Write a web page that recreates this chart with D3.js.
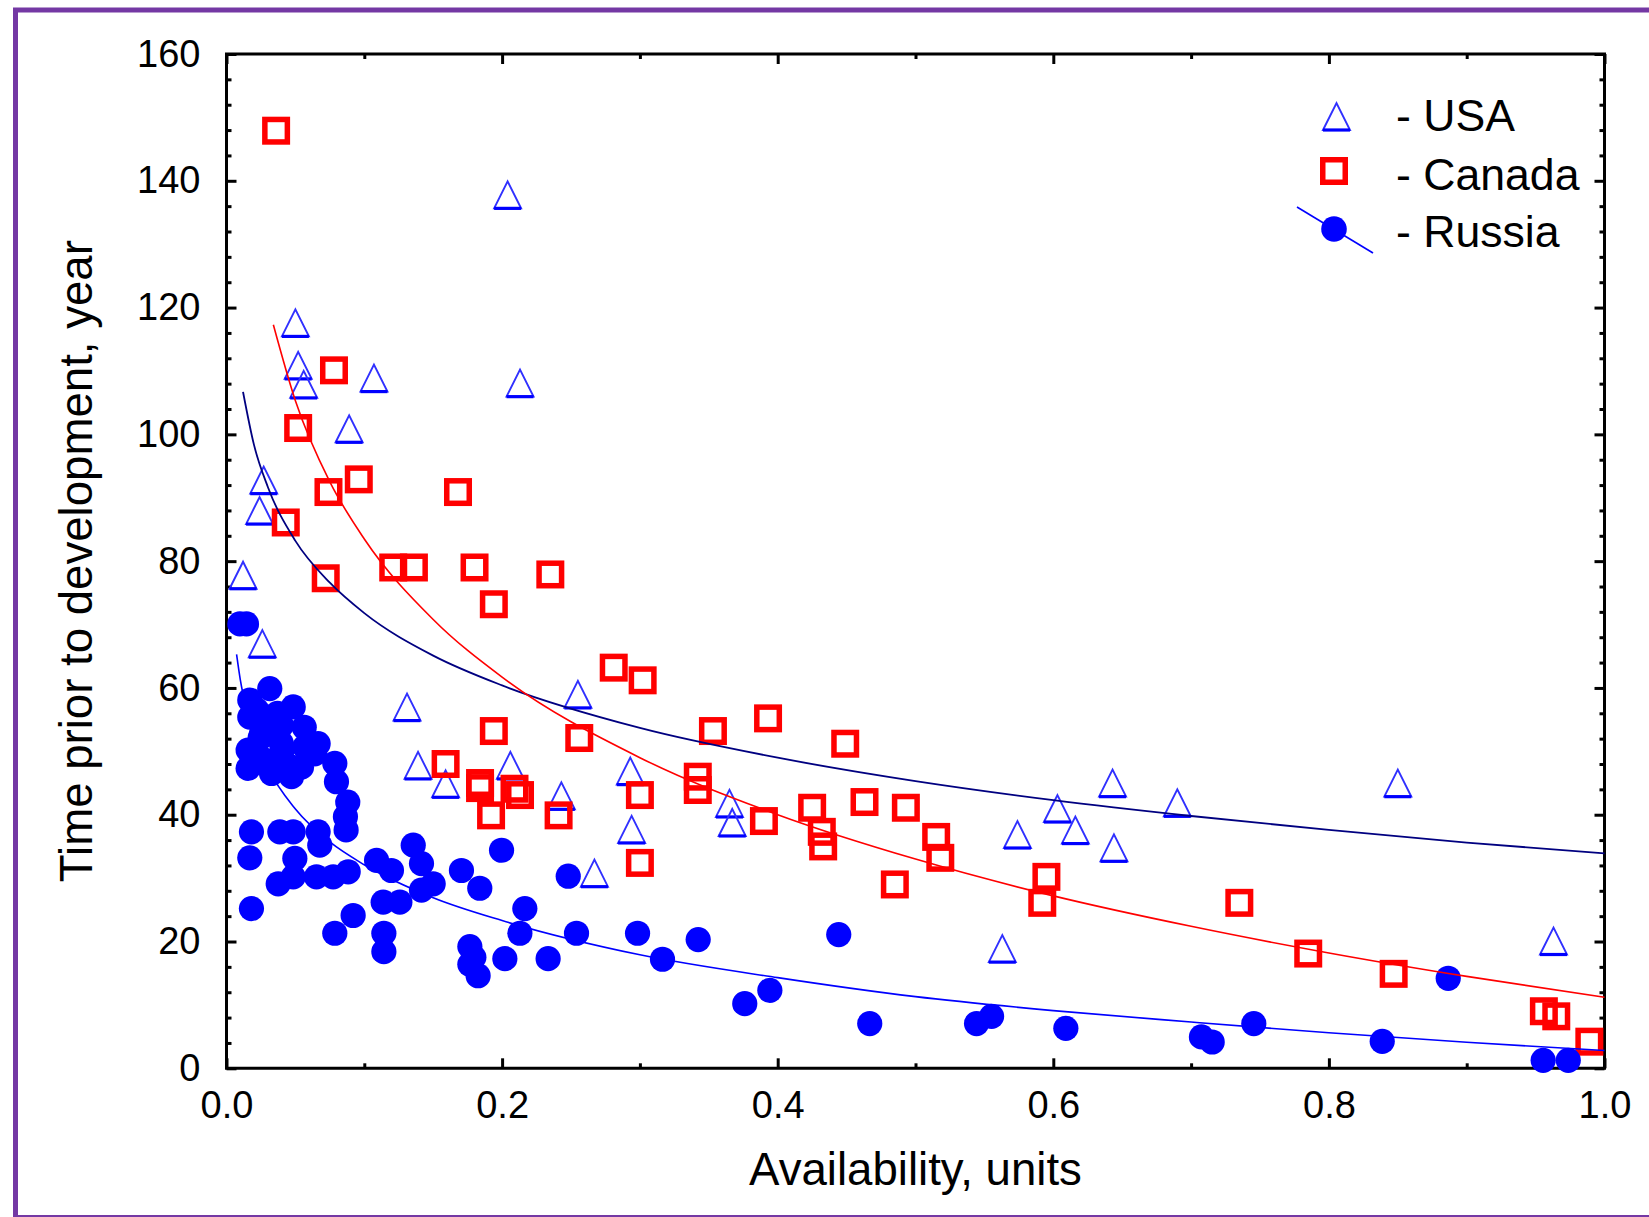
<!DOCTYPE html>
<html>
<head>
<meta charset="utf-8">
<script src="https://cdn.jsdelivr.net/npm/d3@7"></script>
<style>
body { margin: 0; background: #fff; }
svg { display: block; font-family: "Liberation Sans", Arial, sans-serif; }
</style>
</head>
<body>
<div id="graph"></div>
<script>
// series: [availability, years]
var usa = [
  [0.204,137.7],[0.050,117.5],[0.052,110.8],[0.056,107.8],[0.107,108.8],[0.213,108.0],
  [0.089,100.8],[0.027,92.7],[0.024,87.9],[0.012,77.7],[0.026,66.9],[0.131,56.9],
  [0.139,47.7],[0.159,44.8],[0.206,47.7],[0.293,46.8],[0.243,42.9],[0.294,37.6],
  [0.267,30.7],[0.255,58.9],[0.365,41.7],[0.367,38.7],[0.574,36.8],[0.603,40.9],
  [0.616,37.5],[0.643,44.9],[0.644,34.7],[0.563,18.8],[0.690,41.8],[0.850,44.9],[0.963,20.0]
]

var canada = [
  [0.036,147.9],[0.078,110.1],[0.052,101.0],[0.096,92.9],[0.074,90.9],[0.168,90.9],
  [0.043,86.1],[0.072,77.3],[0.121,79.0],[0.136,79.0],[0.180,79.0],[0.235,77.9],
  [0.194,73.2],[0.281,63.2],[0.302,61.2],[0.194,53.2],[0.256,52.1],[0.159,48.0],
  [0.184,45.0],[0.184,44.2],[0.209,44.1],[0.213,43.1],[0.192,39.9],[0.241,39.9],
  [0.300,43.1],[0.300,32.4],[0.353,53.2],[0.393,55.2],[0.449,51.2],[0.342,46.0],
  [0.342,43.9],[0.390,39.0],[0.425,41.1],[0.432,37.3],[0.433,35.0],[0.463,42.0],
  [0.493,41.1],[0.515,36.5],[0.518,33.2],[0.485,29.0],[0.595,30.2],[0.592,26.1],
  [0.735,26.1],[0.785,18.1],[0.847,14.9],[0.956,9.0],[0.965,8.2],[0.989,4.2]
]

var russia = [
  [0.0097,70.1],[0.0145,70.1],
  [0.0314,59.9],[0.0484,57.0],[0.0169,58.1],[0.0169,55.4],[0.0302,55.4],[0.0399,54.1],
  [0.0254,52.8],[0.0157,50.2],[0.0157,47.3],[0.0278,48.6],[0.0399,49.7],[0.0472,47.5],
  [0.0568,50.7],[0.0665,51.2],[0.0544,47.5],[0.0327,46.5],[0.0472,46.0],
  [0.0244,52.1],[0.0564,53.8],[0.064,49.6],[0.0397,51.3],[0.022,56.5],[0.037,56.0],
  [0.0786,48.1],[0.0798,45.2],[0.088,42.0],[0.0863,39.7],[0.0868,37.6],
  [0.0181,37.3],[0.0169,33.2],[0.0181,25.2],[0.0387,37.3],[0.0484,37.3],[0.0665,37.3],[0.0677,35.2],
  [0.0496,33.1],[0.0375,29.1],[0.0484,30.2],[0.0653,30.2],[0.0774,30.2],[0.0883,31.0],
  [0.1089,32.8],[0.1197,31.2],
  [0.1355,35.2],[0.1415,32.3],[0.150,29.1],[0.1415,28.1],
  [0.1705,31.2],[0.1838,28.4],[0.1996,34.4],[0.248,30.3],
  [0.2165,25.2],[0.2129,21.3],[0.202,17.3],[0.2334,17.3],[0.254,21.3],[0.2983,21.3],[0.3164,17.2],
  [0.1137,26.2],[0.1258,26.2],[0.0919,24.1],[0.0786,21.3],[0.1142,21.3],[0.1142,18.4],
  [0.1766,19.2],[0.1766,16.4],[0.1826,14.6],[0.1795,17.5],
  [0.3423,20.3],[0.4443,21.1],[0.3761,10.2],[0.3943,12.3],[0.4668,7.05],[0.5443,7.05],
  [0.5552,8.2],[0.6091,6.3],
  [0.8866,14.2],[0.7455,7.05],[0.7075,4.95],[0.7153,4.15],[0.8387,4.26],[0.9555,1.26],[0.9737,1.26]
]

// trend curves, sampled along the drawn lines
var usaTrend = [
  [0.012,106.7],[0.02,98.3],[0.03,91.7],[0.05,83.2],[0.075,76.6],[0.1,71.8],[0.15,65.1],
  [0.2,60.4],[0.3,53.7],[0.4,49.0],[0.5,45.3],[0.6,42.3],[0.7,39.8],[0.8,37.6],[0.9,35.6],[1.0,33.9]
]
var canadaTrend = [
  [0.034,117.3],[0.05,105.3],[0.075,92.5],[0.1,83.5],[0.15,70.8],[0.2,61.7],[0.3,49.0],
  [0.4,40.0],[0.5,33.0],[0.6,27.2],[0.7,22.4],[0.8,18.2],[0.9,14.5],[1.0,11.2]
]
var russiaTrend = [
  [0.0073,65.3],[0.01,61.3],[0.015,56.2],[0.02,52.5],[0.03,47.4],[0.05,40.9],[0.075,35.7],
  [0.1,32.1],[0.15,26.9],[0.2,23.3],[0.3,17.9],[0.4,14.3],[0.5,11.3],[0.6,9.1],[0.7,7.3],
  [0.8,5.6],[0.9,4.1],[1.0,2.8]
]

var xMajor = [0, 0.2, 0.4, 0.6, 0.8, 1.0]
var xMinor = [0.1, 0.3, 0.5, 0.7, 0.9]
var yMajor = [0, 20, 40, 60, 80, 100, 120, 140, 160]
var yMinor = d3.range(4, 160, 4).filter(function(v){ return v % 20 !== 0 })
var legendNames = ['USA', 'Canada', 'Russia']
var xTitle = 'Availability, units'
var yTitle = 'Time prior to development, year'

var W = 1649, H = 1217
var svg = d3.select('#graph').append('svg')
  .attr('width', W).attr('height', H)

svg.append('rect').attr('width', W).attr('height', H).attr('fill', '#fff')

// purple outer frame
svg.append('rect')
  .attr('x', 15.5).attr('y', 10)
  .attr('width', 1700).attr('height', 1207.5)
  .attr('fill', 'none').attr('stroke', '#7438a4').attr('stroke-width', 5)

var pLeft = 226.5, pRight = 1604.5, pTop = 54, pBottom = 1068.3
var x = d3.scaleLinear().domain([0, 1]).range([pLeft, pRight])
var y = d3.scaleLinear().domain([0, 160]).range([pBottom, pTop])

var tickFont = 38

function noDomain(g) { g.select('.domain').remove() }

// major/minor ticks on four sides, all pointing inward
svg.append('g').attr('transform', 'translate(0,' + pBottom + ')')
  .call(d3.axisBottom(x).tickValues(xMajor).tickSize(-10).tickSizeOuter(0).tickPadding(23)
    .tickFormat(d3.format('.1f')))
  .call(noDomain)
svg.append('g').attr('transform', 'translate(0,' + pBottom + ')')
  .call(d3.axisBottom(x).tickValues(xMinor).tickSize(-5).tickFormat(''))
  .call(noDomain)
svg.append('g').attr('transform', 'translate(0,' + pTop + ')')
  .call(d3.axisTop(x).tickValues(xMajor).tickSize(-10).tickFormat(''))
  .call(noDomain)
svg.append('g').attr('transform', 'translate(0,' + pTop + ')')
  .call(d3.axisTop(x).tickValues(xMinor).tickSize(-5).tickFormat(''))
  .call(noDomain)

svg.append('g').attr('transform', 'translate(' + pLeft + ',0)')
  .call(d3.axisLeft(y).tickValues(yMajor).tickSize(-10).tickSizeOuter(0).tickPadding(26))
  .call(noDomain)
svg.append('g').attr('transform', 'translate(' + pLeft + ',0)')
  .call(d3.axisLeft(y).tickValues(yMinor).tickSize(-5).tickFormat(''))
  .call(noDomain)
svg.append('g').attr('transform', 'translate(' + pRight + ',0)')
  .call(d3.axisRight(y).tickValues(yMajor).tickSize(-10).tickFormat(''))
  .call(noDomain)
svg.append('g').attr('transform', 'translate(' + pRight + ',0)')
  .call(d3.axisRight(y).tickValues(yMinor).tickSize(-5).tickFormat(''))
  .call(noDomain)

svg.selectAll('.tick line').attr('stroke', '#000').attr('stroke-width', 3)
svg.selectAll('.tick text')
  .attr('fill', '#000')
  .style('font-size', tickFont + 'px')
  .style('font-family', '"Liberation Sans", Arial, sans-serif')

// box
svg.append('path')
  .attr('d', 'M' + pLeft + ',' + pTop + 'H' + pRight + 'V' + pBottom + 'H' + pLeft + 'Z')
  .attr('fill', 'none').attr('stroke', '#000').attr('stroke-width', 3)

// titles
svg.append('text')
  .attr('x', (pLeft + pRight) / 2).attr('y', 1185)
  .attr('text-anchor', 'middle')
  .style('font-size', '45.6px')
  .text(xTitle)

svg.append('text')
  .attr('transform', 'translate(92,' + ((pTop + pBottom) / 2) + ') rotate(-90)')
  .attr('text-anchor', 'middle')
  .style('font-size', '45.6px')
  .text(yTitle)

// markers
function triangle(g, cx, cy) {
  g.append('path')
    .attr('d', 'M' + (cx - 13.5) + ',' + (cy + 13) + 'L' + cx + ',' + (cy - 14) + 'L' + (cx + 13.5) + ',' + (cy + 13) + 'Z')
    .attr('fill', 'none').attr('stroke', '#3030ff').attr('stroke-width', 1.9)
  g.append('line')
    .attr('x1', cx - 13.5).attr('x2', cx + 13.5)
    .attr('y1', cy + 13).attr('y2', cy + 13)
    .attr('stroke', '#0000ff').attr('stroke-width', 3.2)
}

var usaG = svg.append('g')
usa.forEach(function(d) { triangle(usaG, x(d[0]), y(d[1])) })

svg.append('g').selectAll('rect')
  .data(canada)
  .enter().append('rect')
  .attr('x', function(d) { return x(d[0]) - 11.25 })
  .attr('y', function(d) { return y(d[1]) - 11.25 })
  .attr('width', 22.5).attr('height', 22.5)
  .attr('fill', 'none').attr('stroke', '#ff0000').attr('stroke-width', 5.5)

svg.append('g').selectAll('circle')
  .data(russia)
  .enter().append('circle')
  .attr('cx', function(d) { return x(d[0]) })
  .attr('cy', function(d) { return y(d[1]) })
  .attr('r', 12.6)
  .attr('fill', '#0000ff')

// trend lines
var line = d3.line()
  .x(function(d) { return x(d[0]) })
  .y(function(d) { return y(d[1]) })
  .curve(d3.curveMonotoneX)

svg.append('path').datum(usaTrend).attr('d', line)
  .attr('fill', 'none').attr('stroke', '#000080').attr('stroke-width', 1.8)
svg.append('path').datum(canadaTrend).attr('d', line)
  .attr('fill', 'none').attr('stroke', '#ff0000').attr('stroke-width', 1.6)
svg.append('path').datum(russiaTrend).attr('d', line)
  .attr('fill', 'none').attr('stroke', '#0000ff').attr('stroke-width', 1.6)

// legend
var leg = svg.append('g')
triangle(leg, 1336.5, 117)
leg.append('rect')
  .attr('x', 1334 - 11.25).attr('y', 171 - 11.25)
  .attr('width', 22.5).attr('height', 22.5)
  .attr('fill', 'none').attr('stroke', '#ff0000').attr('stroke-width', 5.5)
leg.append('line')
  .attr('x1', 1297).attr('y1', 207).attr('x2', 1373).attr('y2', 253)
  .attr('stroke', '#0000ff').attr('stroke-width', 1.6)
leg.append('circle').attr('cx', 1334).attr('cy', 229).attr('r', 12.8).attr('fill', '#0000ff')

var legendBase = [131, 190, 247]
leg.selectAll('text')
  .data(legendNames)
  .enter().append('text')
  .attr('x', 1396)
  .attr('y', function(d, i) { return legendBase[i] })
  .style('font-size', '44.6px')
  .text(function(d) { return '- ' + d })
</script>
</body>
</html>
